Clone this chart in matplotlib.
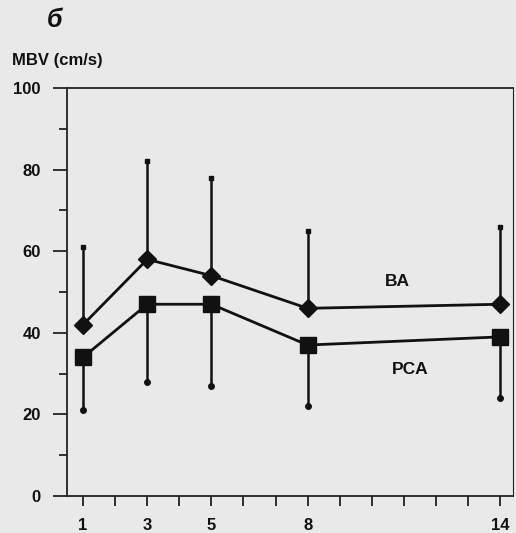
import matplotlib
matplotlib.use("Agg")
import matplotlib.pyplot as plt
from matplotlib.ticker import FixedLocator, MultipleLocator

days = [1, 3, 5, 8, 14]
ba_mean = [42, 58, 54, 46, 47]
ba_upper = [61, 82, 78, 65, 66]
pca_mean = [34, 47, 47, 37, 39]
pca_lower = [21, 28, 27, 22, 24]
xtick_labels = ["1", "3", "5", "8", "14"]

plt.rcParams['font.family'] = ['Liberation Sans', 'DejaVu Sans']
bg = '#e9e9e9'
fig = plt.figure(figsize=(5.16, 5.33), dpi=100, facecolor=bg)
ax = fig.add_axes([0.130, 0.0694, 0.864, 0.7655], facecolor=bg)

ba_err = [[0]*len(days), [u - m for u, m in zip(ba_upper, ba_mean)]]
pca_err = [[m - l for l, m in zip(pca_lower, pca_mean)], [0]*len(days)]

ax.errorbar(days, ba_mean, yerr=ba_err, fmt='D-', color='#111111', ms=9,
            lw=2, elinewidth=1.8, capsize=0, zorder=3)
ax.errorbar(days, pca_mean, yerr=pca_err, fmt='s-', color='#111111', ms=11,
            lw=2, elinewidth=1.8, capsize=0, zorder=3)
# small dot caps
ax.plot(days, ba_upper, 's', color='#111111', ms=3.5, zorder=3)
ax.plot(days, pca_lower, 'o', color='#111111', ms=4, zorder=3)

ax.text(10.8, 52.5, "BA", fontsize=12.5, fontweight='bold', ha='center', va='center', color='#111111')
ax.text(11.2, 31, "PCA", fontsize=12.5, fontweight='bold', ha='center', va='center', color='#111111')

ax.set_xlim(0.5, 14.4)
ax.set_ylim(0, 100)
ax.xaxis.set_major_locator(FixedLocator(days))
ax.set_xticklabels(xtick_labels)
ax.xaxis.set_minor_locator(MultipleLocator(1))
ax.yaxis.set_major_locator(MultipleLocator(20))
ax.yaxis.set_minor_locator(MultipleLocator(10))
ax.tick_params(axis='both', which='both', direction='out', width=1.3, color='#222222')
ax.tick_params(axis='y', which='major', length=10, labelsize=12, pad=9)
ax.tick_params(axis='y', which='minor', length=6)
ax.tick_params(axis='x', which='both', length=7, labelsize=12, pad=9)
for lab in ax.get_xticklabels() + ax.get_yticklabels():
    lab.set_fontweight('bold')
    lab.set_color('#111111')
for sp in ax.spines.values():
    sp.set_linewidth(1.3)
    sp.set_color('#222222')
ax.spines['right'].set_linewidth(0.8)

fig.text(55/516, 1 - 20/533, "б", fontsize=18, style='italic', fontweight='bold',
         ha='center', va='center', color='#111111')
fig.text(12/516, 1 - 60/533, "MBV (cm/s)", fontsize=12, fontweight='bold',
         ha='left', va='center', color='#111111')

fig.savefig("out.png", dpi=100, facecolor=bg)
